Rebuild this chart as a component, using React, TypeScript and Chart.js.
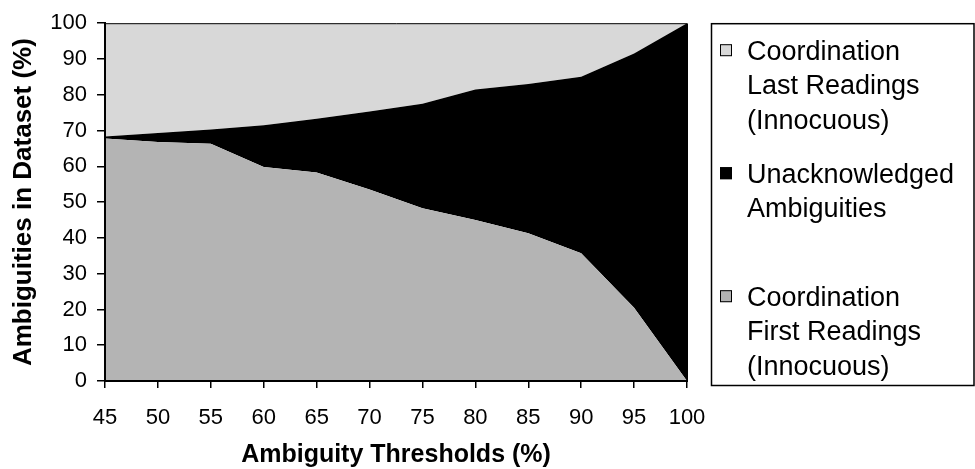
import React, { useEffect, useRef } from "react";
import { Chart, registerables } from "chart.js";

Chart.register(...registerables);

// Ambiguity thresholds (x) and the share of each ambiguity class (stacked, %)
const thresholds = [45, 50, 55, 60, 65, 70, 75, 80, 85, 90, 95, 100];
const firstReadings = [67.8, 66.8, 66.3, 59.8, 58.3, 53.5, 48.3, 45.0, 41.3, 35.7, 20.5, 0];
const unacknowledged = [0.5, 2.5, 4.0, 11.7, 15.0, 21.8, 29.2, 36.5, 41.7, 49.3, 71.0, 100];
const lastReadings = [31.7, 30.7, 29.7, 28.5, 26.7, 24.7, 22.5, 18.5, 17.0, 15.0, 8.5, 0];

// Legend text, one entry per line
const firstLabel = ["Coordination", "First Readings", "(Innocuous)"];
const unackLabel = ["Unacknowledged", "Ambiguities"];
const lastLabel = ["Coordination", "Last Readings", "(Innocuous)"];

const xTitle = "Ambiguity Thresholds (%)";
const yTitle = "Ambiguities in Dataset (%)";

const FONT = "Arial, 'Liberation Sans', Helvetica, sans-serif";
const MID_GREY = "#b4b4b4";
const LIGHT_GREY = "#d8d8d8";
const BLACK = "#000000";

const toPoints = (values: number[]) => thresholds.map((x, i) => ({ x, y: values[i] }));

// Frame around the plot area, drawn over the filled areas
const framePlugin = {
  id: "plotFrame",
  afterDatasetsDraw(chart: any) {
    const { ctx, chartArea } = chart;
    const { left, right, top, bottom } = chartArea;
    ctx.save();
    ctx.strokeStyle = BLACK;
    ctx.lineWidth = 1;
    ctx.beginPath();
    ctx.moveTo(left, top + 0.5);
    ctx.lineTo(right + 0.5, top + 0.5);
    ctx.lineTo(right + 0.5, bottom);
    ctx.stroke();
    ctx.lineWidth = 2;
    ctx.beginPath();
    ctx.moveTo(left, top);
    ctx.lineTo(left, bottom);
    ctx.lineTo(right + 1, bottom);
    ctx.stroke();
    ctx.restore();
  },
};

// Boxed legend on the right, entries listed top-down in stack order
const sideLegendPlugin = {
  id: "sideLegend",
  afterDraw(chart: any) {
    const { ctx, chartArea } = chart;
    const boxLeft = chartArea.right + 24;
    const boxTop = chartArea.top;
    const boxRight = chart.width;
    const boxBottom = chartArea.bottom + 4;
    ctx.save();
    ctx.strokeStyle = BLACK;
    ctx.lineWidth = 1.5;
    ctx.strokeRect(boxLeft + 0.5, boxTop + 0.5, boxRight - boxLeft - 1.5, boxBottom - boxTop);

    const datasets = chart.data.datasets;
    const order = [2, 1, 0];
    const itemStep = 123;
    const lineStep = 34.5;
    const markerSize = 12;
    ctx.font = `27px ${FONT}`;
    ctx.textBaseline = "middle";
    ctx.textAlign = "left";
    order.forEach((dsIndex, k) => {
      const ds = datasets[dsIndex];
      const yc = boxTop + 28 + k * itemStep;
      const mx = boxLeft + 9;
      ctx.fillStyle = ds.backgroundColor;
      ctx.fillRect(mx, yc - markerSize / 2 - 1, markerSize, markerSize);
      ctx.lineWidth = 1;
      ctx.strokeStyle = BLACK;
      ctx.strokeRect(mx + 0.5, yc - markerSize / 2 - 0.5, markerSize - 1, markerSize - 1);
      ctx.fillStyle = BLACK;
      (ds.legendLines as string[]).forEach((line, j) => {
        ctx.fillText(line, boxLeft + 36, yc + 1 + j * lineStep);
      });
    });
    ctx.restore();
  },
};

export default function App() {
  const canvasRef = useRef<HTMLCanvasElement | null>(null);

  useEffect(() => {
    const canvas = canvasRef.current;
    if (!canvas) return;
    const tickFont = { family: FONT, size: 22 };
    const xTitleFont = { family: FONT, size: 25, weight: "bold" as const, lineHeight: 1.1 };
    const yTitleFont = { family: FONT, size: 26, weight: "bold" as const, lineHeight: 1.1 };

    const chart = new Chart(canvas, {
      type: "line",
      data: {
        datasets: [
          {
            label: firstLabel.join(" "),
            legendLines: firstLabel,
            data: toPoints(firstReadings),
            backgroundColor: MID_GREY,
            borderColor: MID_GREY,
            borderWidth: 0,
            pointRadius: 0,
            tension: 0,
            fill: "origin",
          } as any,
          {
            label: unackLabel.join(" "),
            legendLines: unackLabel,
            data: toPoints(unacknowledged),
            backgroundColor: BLACK,
            borderColor: BLACK,
            borderWidth: 0,
            pointRadius: 0,
            tension: 0,
            fill: "-1",
          } as any,
          {
            label: lastLabel.join(" "),
            legendLines: lastLabel,
            data: toPoints(lastReadings),
            backgroundColor: LIGHT_GREY,
            borderColor: LIGHT_GREY,
            borderWidth: 0,
            pointRadius: 0,
            tension: 0,
            fill: "-1",
          } as any,
        ],
      },
      options: {
        responsive: false,
        animation: false,
        events: [],
        layout: { padding: { left: 0, right: 288, top: 20, bottom: 0 } },
        plugins: {
          legend: { display: false },
          tooltip: { enabled: false },
        },
        scales: {
          x: {
            type: "linear",
            min: 45,
            max: 100,
            ticks: {
              stepSize: 5,
              color: BLACK,
              font: tickFont,
              padding: 17,
              maxRotation: 0,
              autoSkip: false,
            },
            grid: {
              display: true,
              drawOnChartArea: false,
              drawTicks: true,
              tickLength: 7,
              color: BLACK,
              lineWidth: 1.5,
            },
            border: { display: true, color: BLACK, width: 2 },
            title: {
              display: true,
              text: xTitle,
              color: BLACK,
              font: xTitleFont,
              padding: { top: 0, bottom: 0 },
            },
            afterFit: (scale: any) => {
              scale.height = 88;
            },
          },
          y: {
            stacked: true,
            min: 0,
            max: 100,
            ticks: {
              stepSize: 10,
              color: BLACK,
              font: tickFont,
              padding: 10,
            },
            grid: {
              display: true,
              drawOnChartArea: false,
              drawTicks: true,
              tickLength: 8,
              color: BLACK,
              lineWidth: 1.5,
            },
            border: { display: true, color: BLACK, width: 2 },
            title: {
              display: true,
              text: yTitle,
              color: BLACK,
              font: yTitleFont,
              padding: { top: 10, bottom: 0 },
            },
            afterFit: (scale: any) => {
              scale.width = 105;
            },
          },
        },
      },
      plugins: [framePlugin, sideLegendPlugin],
    });

    return () => chart.destroy();
  }, []);

  return (
    <div style={{ position: "absolute", left: 0, top: 0, width: 975, height: 469, background: "#fff" }}>
      <canvas ref={canvasRef} width={975} height={469} style={{ display: "block", width: 975, height: 469 }} />
    </div>
  );
}
